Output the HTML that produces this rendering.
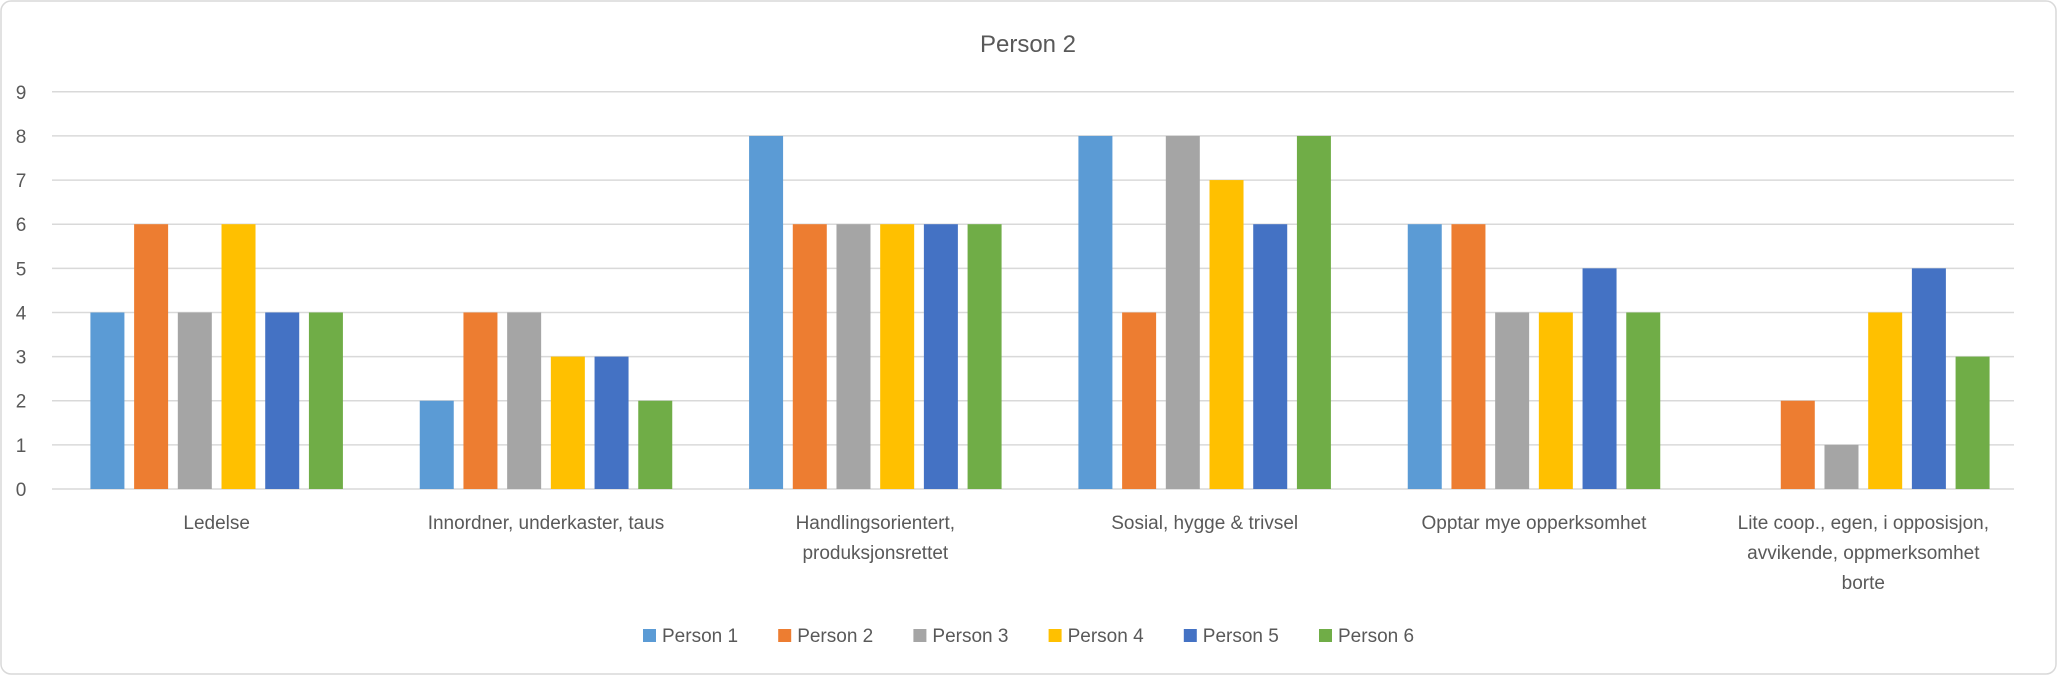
<!DOCTYPE html>
<html><head><meta charset="utf-8"><style>
html,body{margin:0;padding:0;background:#fff;}
svg{display:block;font-family:"Liberation Sans",sans-serif;}
</style></head><body>
<svg id="chart" width="2057" height="675" viewBox="0 0 2057 675">
<rect x="1" y="1" width="2055" height="673" rx="10" fill="#fff" stroke="#d9d9d9" stroke-width="1.5"/>
<text x="1028" y="52" text-anchor="middle" font-size="24" fill="#595959">Person 2</text>
<g id="grid"></g><g id="bars"></g><g id="labels"></g><g id="legend"></g>
</svg>
<script>
const categories = [["Ledelse"],["Innordner, underkaster, taus"],["Handlingsorientert,","produksjonsrettet"],["Sosial, hygge & trivsel"],["Opptar mye opperksomhet"],["Lite coop., egen, i opposisjon,","avvikende, oppmerksomhet","borte"]];
const seriesNames = ["Person 1","Person 2","Person 3","Person 4","Person 5","Person 6"];
const person1 = [4,2,8,8,6,0];
const person2 = [6,4,6,4,6,2];
const person3 = [4,4,6,8,4,1];
const person4 = [6,3,6,7,4,4];
const person5 = [4,3,6,6,5,5];
const person6 = [4,2,6,8,4,3];
const yTicks = [0,1,2,3,4,5,6,7,8,9];
const colors = ["#5B9BD5","#ED7D31","#A5A5A5","#FFC000","#4472C4","#70AD47"];
const series = [person1,person2,person3,person4,person5,person6];
const NS="http://www.w3.org/2000/svg";
const L=52,R=2028,GR=2014,T=91.8,B=489,yMax=9;
const y=v=>B-(v/yMax)*(B-T);
const catW=(R-L)/categories.length;
const cx=i=>L+catW*(i+0.5);
const pitch=43.7,bw=34;
function mk(tag,attrs,parent){const e=document.createElementNS(NS,tag);for(const k in attrs)e.setAttribute(k,attrs[k]);parent.appendChild(e);return e;}
const grid=document.getElementById('grid');
yTicks.forEach(t=>{
  const l=mk('line',{x1:L,x2:GR,y1:y(t),y2:y(t),stroke:'#d9d9d9','stroke-width':1.5},grid);
  
  
  const tx=mk('text',{x:21,y:y(t)+7,'text-anchor':'middle','font-size':19,fill:'#595959'},grid);
  tx.textContent=t;
  
  
});
const bars=document.getElementById('bars');
series.forEach((s,si)=>{
  s.forEach((v,ci)=>{
    const x=cx(ci)+(si-2.5)*pitch-bw/2;
    const r=mk('rect',{x:x,y:y(v),width:bw,height:B-y(v),fill:colors[si]},bars);
    
    
  });
});
const labels=document.getElementById('labels');
categories.forEach((lines,ci)=>{
  lines.forEach((ln,li)=>{
    const t=mk('text',{x:cx(ci),y:529+li*30,'text-anchor':'middle','font-size':19,fill:'#595959'},labels);
    t.textContent=ln;
    
    
  });
});
const legend=document.getElementById('legend');
seriesNames.forEach((n,i)=>{
  const x=643+i*135.2;
  const r=mk('rect',{x:x,y:629,width:13,height:13,fill:colors[i]},legend);
  
  
  const t=mk('text',{x:x+19,y:642,'font-size':19,fill:'#595959'},legend);
  t.textContent=n;
  
  
});
</script>
</body></html>
